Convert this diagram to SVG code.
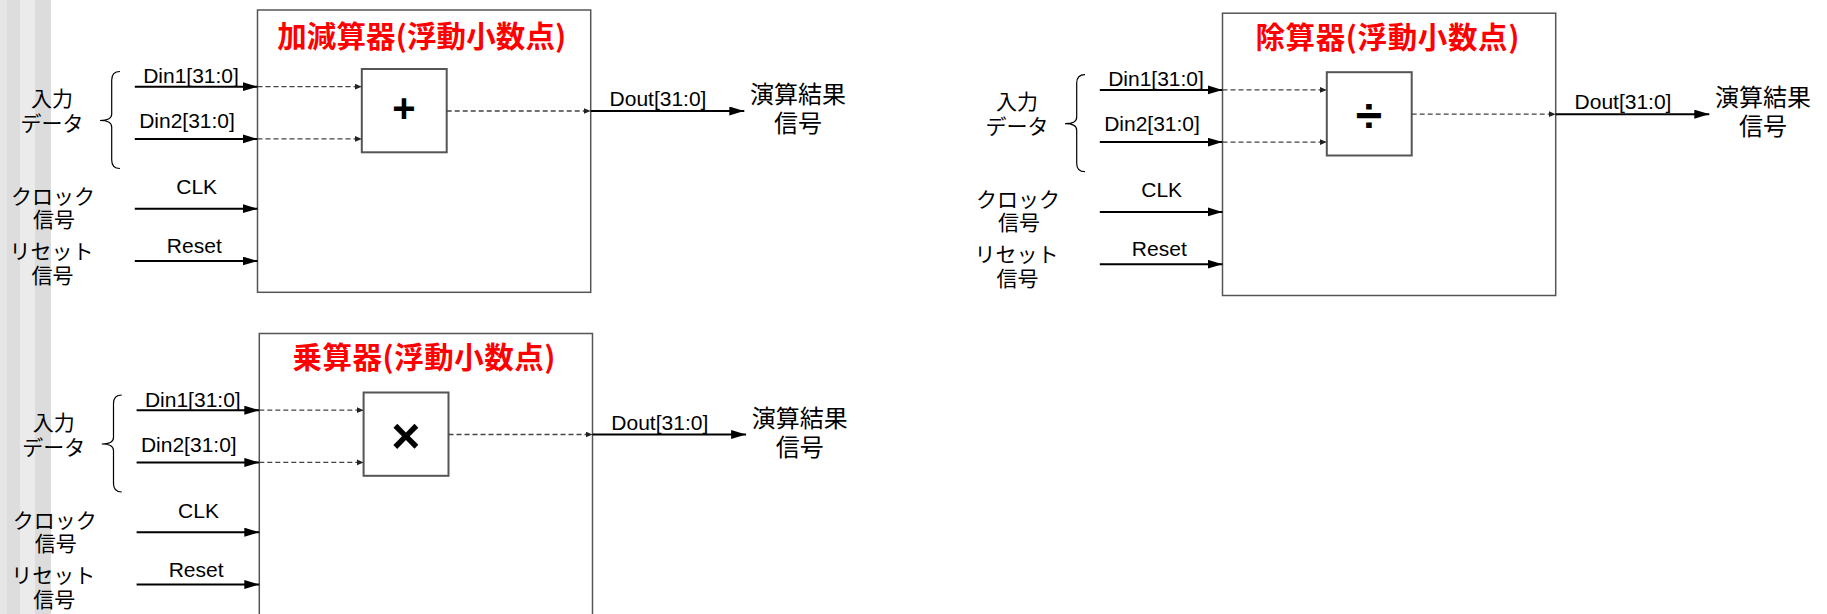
<svg xmlns="http://www.w3.org/2000/svg" width="1827" height="614" viewBox="0 0 1827 614">
<style>
.box{fill:#fff;stroke:#555;stroke-width:1.5}
.ibox{fill:#fff;stroke:#555;stroke-width:2}
.title{font-family:"Noto Sans CJK JP",sans-serif;font-weight:bold;font-size:29.5px;fill:#ff0000;text-anchor:middle}
.lbl{font-family:"Liberation Sans",Arial,sans-serif;font-size:21px;fill:#000;text-anchor:middle}
.jp{font-family:"Noto Sans CJK JP",sans-serif;font-size:21px;fill:#000;text-anchor:middle}
.jpo{font-family:"Noto Sans CJK JP",sans-serif;font-size:24px;fill:#000;text-anchor:middle}
.op{font-family:"Liberation Sans",Arial,sans-serif;font-weight:bold;font-size:40px;fill:#000;text-anchor:middle}
.sol{stroke:#000;stroke-width:2;fill:none;marker-end:url(#ah)}
.dsh{stroke:#444;stroke-width:1.3;stroke-dasharray:5,3;fill:none;marker-end:url(#as)}
.brace{stroke:#000;stroke-width:1.2;fill:none}
</style>
<defs>
<marker id="ah" markerUnits="userSpaceOnUse" markerWidth="15" markerHeight="10" refX="15" refY="4.5" orient="auto"><path d="M0,0 L15,4.5 L0,9 z" fill="#000"/></marker>
<marker id="as" markerUnits="userSpaceOnUse" markerWidth="8" markerHeight="7" refX="7" refY="3" orient="auto"><path d="M0,0 L7,3 L0,6 z" fill="#222"/></marker>
</defs>
<rect x="0" y="0" width="1827" height="614" fill="#fff"/>
<g id="strips">
<rect x="0" y="0" width="7" height="614" fill="#e6e6e6"/>
<rect x="7" y="0" width="13" height="614" fill="#dddddd"/>
<rect x="20" y="0" width="15" height="614" fill="#ebebeb"/>
<rect x="35" y="0" width="16" height="614" fill="#dcdcdc"/>
</g>

<!-- Adder -->
<g id="adder">
<g id="adder-box"><rect class="box" x="257.5" y="10" width="333.2" height="282.3"/>
<text class="title" x="421.7" y="46.5" textLength="289">加減算器(浮動小数点)</text></g>
<g id="adder-core"><rect class="ibox" x="361.8" y="69" width="84.9" height="83.3"/>
<text class="op" x="404" y="122">+</text></g>
<g id="adder-in-label"><text class="jp" x="52" y="106">入力</text><text class="jp" x="52" y="131">データ</text></g>
<g id="adder-clk-label"><text class="jp" x="53" y="204">クロック</text><text class="jp" x="54" y="227">信号</text></g>
<g id="adder-rst-label"><text class="jp" x="51.5" y="259">リセット</text><text class="jp" x="52.5" y="283">信号</text></g>
<g id="adder-out-label"><text class="jpo" x="798" y="103">演算結果</text><text class="jpo" x="798" y="132">信号</text></g>
<g id="adder-connectors">
<path class="brace" d="M120,71.5 Q111.7,71.5 111.7,80 L111.7,114 Q111.7,120.5 100,120.5 Q111.7,120.5 111.7,127 L111.7,160 Q111.7,168.5 120,168.5"/>
<path class="sol" d="M134.8,86.7 H257.5"/><path class="dsh" d="M257.5,86.7 H361.8"/>
<path class="sol" d="M134.8,138.9 H257.5"/><path class="dsh" d="M257.5,138.9 H361.8"/>
<path class="sol" d="M134.8,208.7 H257.5"/>
<path class="sol" d="M134.8,261 H257.5"/>
<path class="dsh" d="M446.7,111 H590.7"/><path class="sol" d="M590.7,111 H744.3"/>
<text class="lbl" x="191" y="83">Din1[31:0]</text>
<text class="lbl" x="187" y="128.3">Din2[31:0]</text>
<text class="lbl" x="196.7" y="194.3">CLK</text>
<text class="lbl" x="194.3" y="253.3">Reset</text>
<text class="lbl" x="658" y="106">Dout[31:0]</text>
</g>
</g>

<!-- Divider -->
<g id="divider" transform="translate(965,3.2)">
<g id="div-box"><rect class="box" x="257.5" y="10" width="333.2" height="282.3"/>
<text class="title" x="422.4" y="45" textLength="264">除算器(浮動小数点)</text></g>
<g id="div-core"><rect class="ibox" x="361.8" y="69" width="84.9" height="83.3"/>
<text class="op" x="404" y="129.3" style="font-size:48px">÷</text></g>
<g id="div-in-label"><text class="jp" x="52" y="106">入力</text><text class="jp" x="52" y="131">データ</text></g>
<g id="div-clk-label"><text class="jp" x="53" y="204">クロック</text><text class="jp" x="54" y="227">信号</text></g>
<g id="div-rst-label"><text class="jp" x="51.5" y="259">リセット</text><text class="jp" x="52.5" y="283">信号</text></g>
<g id="div-out-label"><text class="jpo" x="798" y="103">演算結果</text><text class="jpo" x="798" y="132">信号</text></g>
<g id="div-connectors">
<path class="brace" d="M120,71.5 Q111.7,71.5 111.7,80 L111.7,114 Q111.7,120.5 100,120.5 Q111.7,120.5 111.7,127 L111.7,160 Q111.7,168.5 120,168.5"/>
<path class="sol" d="M134.8,86.7 H257.5"/><path class="dsh" d="M257.5,86.7 H361.8"/>
<path class="sol" d="M134.8,138.9 H257.5"/><path class="dsh" d="M257.5,138.9 H361.8"/>
<path class="sol" d="M134.8,208.7 H257.5"/>
<path class="sol" d="M134.8,261 H257.5"/>
<path class="dsh" d="M446.7,111 H590.7"/><path class="sol" d="M590.7,111 H744.3"/>
<text class="lbl" x="191" y="83">Din1[31:0]</text>
<text class="lbl" x="187" y="128.3">Din2[31:0]</text>
<text class="lbl" x="196.7" y="194.3">CLK</text>
<text class="lbl" x="194.3" y="253.3">Reset</text>
<text class="lbl" x="658" y="106">Dout[31:0]</text>
</g>
</g>

<!-- Multiplier -->
<g id="multiplier" transform="translate(1.8,323.5)">
<g id="mul-box"><rect class="box" x="257.5" y="10" width="333.2" height="320"/>
<text class="title" x="422.2" y="44.5" textLength="263">乗算器(浮動小数点)</text></g>
<g id="mul-core"><rect class="ibox" x="361.8" y="69" width="84.9" height="83.3"/>
<text class="op" x="404" y="129.7" style="font-size:50px">×</text></g>
<g id="mul-in-label"><text class="jp" x="52" y="106">入力</text><text class="jp" x="52" y="131">データ</text></g>
<g id="mul-clk-label"><text class="jp" x="53" y="204">クロック</text><text class="jp" x="54" y="227">信号</text></g>
<g id="mul-rst-label"><text class="jp" x="51.5" y="259">リセット</text><text class="jp" x="52.5" y="283">信号</text></g>
<g id="mul-out-label"><text class="jpo" x="798" y="103">演算結果</text><text class="jpo" x="798" y="132">信号</text></g>
<g id="mul-connectors">
<path class="brace" d="M120,71.5 Q111.7,71.5 111.7,80 L111.7,114 Q111.7,120.5 100,120.5 Q111.7,120.5 111.7,127 L111.7,160 Q111.7,168.5 120,168.5"/>
<path class="sol" d="M134.8,86.7 H257.5"/><path class="dsh" d="M257.5,86.7 H361.8"/>
<path class="sol" d="M134.8,138.9 H257.5"/><path class="dsh" d="M257.5,138.9 H361.8"/>
<path class="sol" d="M134.8,208.7 H257.5"/>
<path class="sol" d="M134.8,261 H257.5"/>
<path class="dsh" d="M446.7,111 H590.7"/><path class="sol" d="M590.7,111 H744.3"/>
<text class="lbl" x="191" y="83">Din1[31:0]</text>
<text class="lbl" x="187" y="128.3">Din2[31:0]</text>
<text class="lbl" x="196.7" y="194.3">CLK</text>
<text class="lbl" x="194.3" y="253.3">Reset</text>
<text class="lbl" x="658" y="106">Dout[31:0]</text>
</g>
</g>
</svg>
